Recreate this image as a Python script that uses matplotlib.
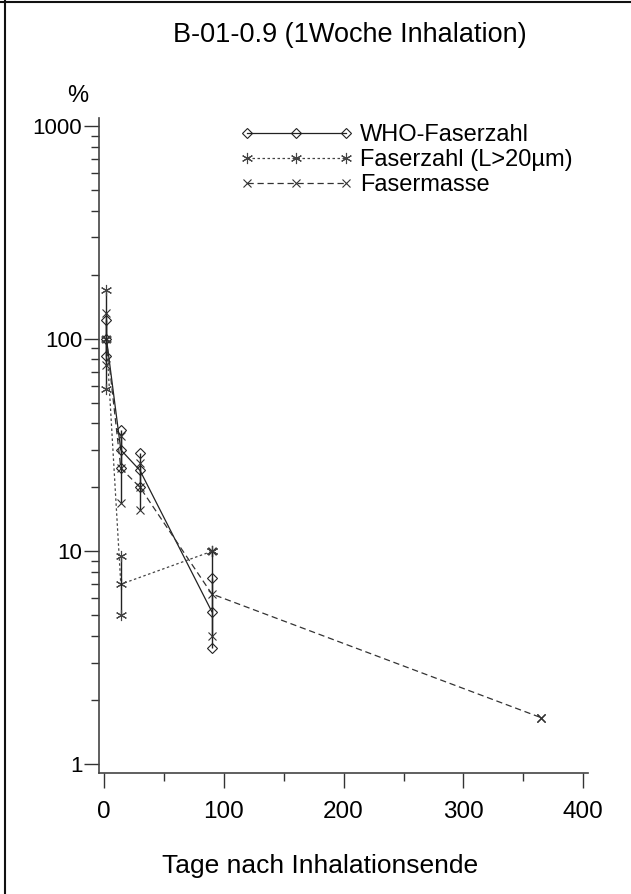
import matplotlib
matplotlib.use("Agg")
import matplotlib.pyplot as plt
from matplotlib.lines import Line2D
from matplotlib.ticker import FixedLocator, LogLocator, NullFormatter

plt.rcParams['font.family'] = ['Liberation Sans', 'DejaVu Sans']

# Days after end of inhalation
who_days = [2, 14, 30, 90]
who_vals = [100, 30, 24, 5.2]
who_lo = [83, 24.6, 20, 3.5]
who_hi = [122, 37, 29, 7.5]

long_days = [2, 14, 90]
long_vals = [100, 7, 10]
long_lo = [58, 5, 10]
long_hi = [169, 9.5, 10]

mass_days = [2, 14, 30, 90, 365]
mass_vals = [100, 24.6, 20, 6.3, 1.65]
mass_lo = [75, 16.8, 15.7, 4.0, 1.65]
mass_hi = [132, 35, 26, 10, 1.65]

labels = ["WHO-Faserzahl", "Faserzahl (L>20µm)", "Fasermasse"]
x_ticks = [0, 100, 200, 300, 400]
y_ticks = [1, 10, 100, 1000]

fig = plt.figure(figsize=(6.31, 8.94), dpi=100)
ax = fig.add_axes([99 / 631, 1 - 773 / 894, (588 - 99) / 631, (773 - 118) / 894])

styles = [
    dict(marker='D', ms=5, ls='-', color='#222222', mfc='none', mew=0.8, lw=0.9),
    dict(marker=(6, 2, 0), ms=8, ls=(0, (2, 2)), color='#444444', mew=0.8, lw=0.9),
    dict(marker='x', ms=6, ls=(0, (5, 3)), color='#333333', mew=0.8, lw=0.9),
]
series = [
    (who_days, who_vals, who_lo, who_hi),
    (long_days, long_vals, long_lo, long_hi),
    (mass_days, mass_vals, mass_lo, mass_hi),
]

for (d, v, lo, hi), st in zip(series, styles):
    ax.plot(d, v, **st)
    ax.vlines(d, lo, hi, colors='#222222', lw=1.0)
    end_style = dict(st)
    end_style['ls'] = 'none'
    ax.plot(d, lo, **end_style)
    ax.plot(d, hi, **end_style)

ax.set_yscale('log')
ax.set_xlim(-4.2, 404)
ax.set_ylim(0.907, 1090)

ax.xaxis.set_major_locator(FixedLocator(x_ticks))
ax.set_xticklabels([str(t) for t in x_ticks])
ax.xaxis.set_minor_locator(FixedLocator([50, 150, 250, 350]))
ax.yaxis.set_major_locator(FixedLocator(y_ticks))
ax.set_yticklabels([str(t) for t in y_ticks])
ax.yaxis.set_minor_locator(LogLocator(base=10, subs=range(2, 10)))
ax.yaxis.set_minor_formatter(NullFormatter())

ax.tick_params(which='major', direction='out', length=11, width=1.0,
               color='#333333', pad=1)
ax.tick_params(axis='y', which='major', labelsize=16)
ax.tick_params(axis='x', which='major', labelsize=17.5, pad=9)
ax.tick_params(which='minor', direction='out', length=6, width=1.0, color='#333333')

for side in ('top', 'right'):
    ax.spines[side].set_visible(False)
for side in ('left', 'bottom'):
    ax.spines[side].set_color('#444444')
    ax.spines[side].set_linewidth(1.2)

fig.text(350 / 631, 1 - 35 / 894, "B-01-0.9 (1Woche Inhalation)",
         ha='center', va='center', fontsize=19.5)
fig.text(78 / 631, 1 - 96 / 894, "%", ha='center', va='center', fontsize=17)
fig.text(320 / 631, 1 - 866 / 894, "Tage nach Inhalationsende",
         ha='center', va='center', fontsize=19)

handles = [Line2D([], [], **st) for st in styles]
fig.legend(handles, labels, loc='upper left',
           bbox_to_anchor=(230 / 631, 1 - 115 / 894), frameon=False,
           numpoints=3, handlelength=4.8, handletextpad=0.3,
           labelspacing=0.12, fontsize=17, borderaxespad=0)

# page frame
fig.add_artist(Line2D([5 / 631, 5 / 631], [0, 1], transform=fig.transFigure,
                      color='#111111', lw=1.5))
fig.add_artist(Line2D([0, 1], [1 - 2 / 894, 1 - 2 / 894], transform=fig.transFigure,
                      color='#111111', lw=1.5))

fig.savefig("out.png", dpi=100)
